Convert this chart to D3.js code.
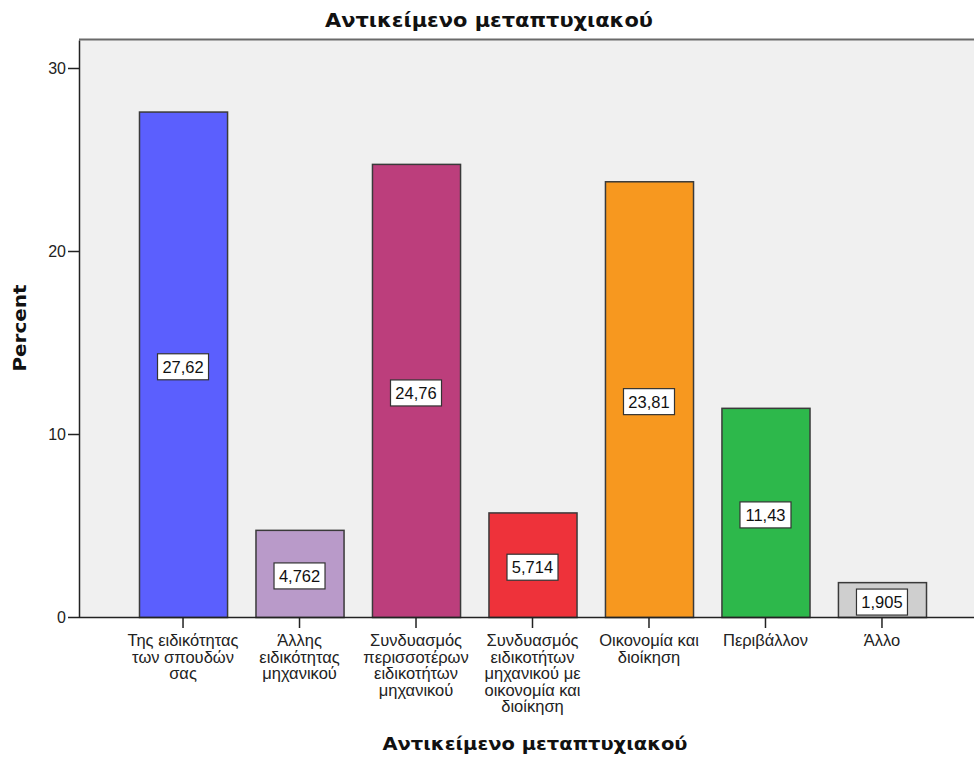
<!DOCTYPE html>
<html><head><meta charset="utf-8">
<script src="https://cdn.jsdelivr.net/npm/d3@7"></script>
<style>
html,body{margin:0;padding:0;background:#fff;}
svg{display:block;font-family:"Liberation Sans",Arial,sans-serif;}
</style></head>
<body><svg id="chart" width="974" height="758"></svg>
<script>
const categories = [
  ["Της ειδικότητας","των σπουδών","σας"],
  ["Άλλης","ειδικότητας","μηχανικού"],
  ["Συνδυασμός","περισσοτέρων","ειδικοτήτων","μηχανικού"],
  ["Συνδυασμός","ειδικοτήτων","μηχανικού με","οικονομία και","διοίκηση"],
  ["Οικονομία και","διοίκηση"],
  ["Περιβάλλον"],
  ["Άλλο"]
];
const values = [27.62, 4.762, 24.76, 5.714, 23.81, 11.43, 1.905];
const valueLabels = ["27,62","4,762","24,76","5,714","23,81","11,43","1,905"];
const colors = ["#5b5ffe","#b99ac9","#bc3e7c","#ee323a","#f7981f","#2db84b","#cfcfcf"];
const yTicks = [0, 10, 20, 30];
const title = "Αντικείμενο μεταπτυχιακού";
const xTitle = "Αντικείμενο μεταπτυχιακού";
const yTitle = "Percent";

const svg = d3.select("#chart");
const pLeft = 79, pRight = 986, pTop = 40, pBottom = 617;

const x = d3.scaleBand().domain(d3.range(values.length)).range([pLeft, pRight])
  .paddingInner(0.244).paddingOuter(0.515);
const y = d3.scaleLinear().domain([0, 31.53]).range([pBottom, pTop]);

// plot background
svg.append("rect").attr("x", pLeft).attr("y", pTop).attr("width", pRight - pLeft).attr("height", pBottom - pTop)
  .attr("fill", "#f0f0f0");
svg.append("line").attr("x1", pLeft).attr("x2", pRight).attr("y1", pTop - 0.5).attr("y2", pTop - 0.5)
  .attr("stroke", "#6a6a6a").attr("stroke-width", 2);

// bars
svg.append("g").selectAll("rect").data(values).join("rect")
  .attr("x", (d, i) => x(i) + 0.5)
  .attr("y", d => y(d) + 0.5)
  .attr("width", x.bandwidth())
  .attr("height", d => pBottom - y(d))
  .attr("fill", (d, i) => colors[i])
  .attr("stroke", "#3a3a3a").attr("stroke-width", 1.5);

// y axis
const yAxis = svg.append("g").attr("transform", `translate(${pLeft},0)`)
  .call(d3.axisLeft(y).tickValues(yTicks).tickSizeInner(11).tickSizeOuter(0).tickPadding(2).tickFormat(d3.format("d")));
yAxis.select(".domain").attr("stroke", "#222").attr("stroke-width", 1.5);
yAxis.selectAll(".tick line").attr("stroke", "#222").attr("stroke-width", 1.5);
yAxis.selectAll("text").attr("font-size", 16).attr("fill", "#222").attr("font-family", "Liberation Sans, Arial, sans-serif");

// x axis
const xAxis = svg.append("g").attr("transform", `translate(0,${pBottom})`)
  .call(d3.axisBottom(x).tickSizeInner(11).tickSizeOuter(0).tickFormat(""));
xAxis.select(".domain").attr("stroke", "#222").attr("stroke-width", 1.5).attr("d", `M${pLeft},0.5H${pRight}`);
xAxis.selectAll(".tick line").attr("stroke", "#222").attr("stroke-width", 1.5);
xAxis.selectAll(".tick").each(function(d) {
  const t = d3.select(this).append("text").attr("fill", "#222").attr("font-size", 16.5)
    .attr("text-anchor", "middle").attr("font-family", "Liberation Sans, Arial, sans-serif");
  categories[d].forEach((line, k) => {
    t.append("tspan").attr("x", 0).attr("y", 29 + k * 16.5).text(line);
  });
});

// value labels
const lab = svg.append("g").selectAll("g").data(values).join("g")
  .attr("transform", (d, i) => `translate(${x(i) + x.bandwidth() / 2},${(y(d) + pBottom) / 2 + 2.5})`);
lab.append("rect").attr("x", -25.5).attr("y", -13).attr("width", 51).attr("height", 26)
  .attr("fill", "#fff").attr("stroke", "#333").attr("stroke-width", 1.2);
lab.append("text").attr("text-anchor", "middle").attr("dy", "0.36em").attr("font-size", 16.5)
  .attr("fill", "#111").text((d, i) => valueLabels[i]);

// titles
const boldFont = "DejaVu Sans, Verdana, sans-serif";
svg.append("text").attr("x", 489).attr("y", 27).attr("text-anchor", "middle")
  .attr("font-family", boldFont).attr("font-size", 19).attr("font-weight", "bold").attr("fill", "#111")
  .attr("textLength", 328).attr("lengthAdjust", "spacingAndGlyphs").text(title);
svg.append("text").attr("x", 535).attr("y", 750).attr("text-anchor", "middle")
  .attr("font-family", boldFont).attr("font-size", 18).attr("font-weight", "bold").attr("fill", "#111")
  .attr("textLength", 305).attr("lengthAdjust", "spacingAndGlyphs").text(xTitle);
svg.append("text").attr("transform", "translate(26,328) rotate(-90)").attr("text-anchor", "middle")
  .attr("font-family", boldFont).attr("font-size", 18).attr("font-weight", "bold").attr("fill", "#111")
  .attr("textLength", 87).attr("lengthAdjust", "spacingAndGlyphs").text(yTitle);
</script></body></html>
